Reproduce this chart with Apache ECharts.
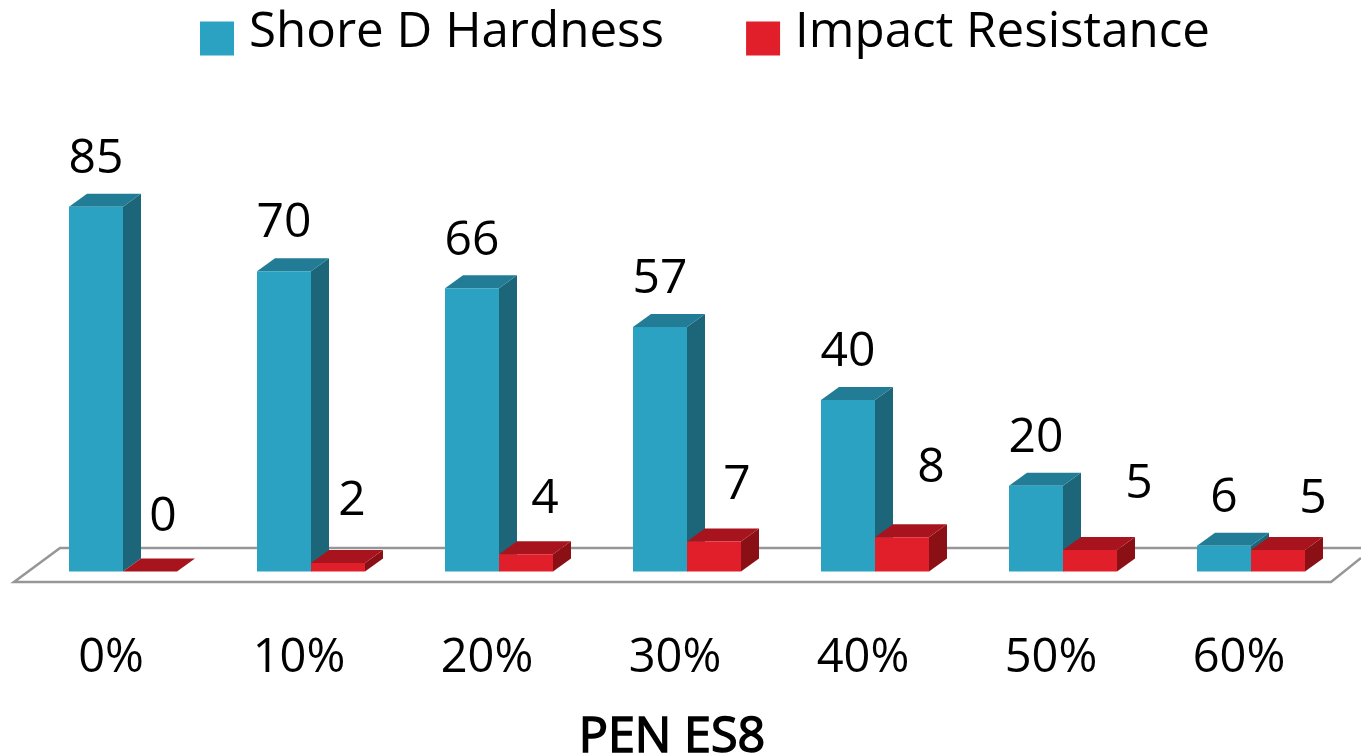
<!DOCTYPE html>
<html>
<head>
<meta charset="utf-8">
<style>html,body{margin:0;padding:0;background:#fff}#main{width:1361px;height:754px}</style>
<script src="https://cdn.jsdelivr.net/npm/echarts@6/dist/echarts.min.js"></script>
</head>
<body>
<div id="main"></div>
<script>
var categories = ['0%', '10%', '20%', '30%', '40%', '50%', '60%'];
var hardness = [85, 70, 66, 57, 40, 20, 6];
var impact = [0, 2, 4, 7, 8, 5, 5];

// hand placed value labels of the red bars: [dx, height above bar]
var impactLabelNudge = [[13, 54], [14, 62], [19, 55], [23, 56], [29, 69], [49, 66], [35, 51]];

var fontName = '"Open Sans"';
var depthX = 18, depthY = 13;

function box(front, side, top, sideOfCenter, labelAt) {
  return function (params, api) {
    var i = api.value(0), v = api.value(1);
    var base = api.coord([i, 0]);
    var tip = api.coord([i, v]);
    var w = api.size([1, 0])[0] * 0.2872;
    var x0 = base[0] + (sideOfCenter < 0 ? -w : 0), x1 = x0 + w;
    var y0 = base[1], y1 = tip[1];
    var at = labelAt(i, x0 + w / 2, y1);
    return {
      type: 'group',
      children: [
        { type: 'polygon', shape: { points: [[x1, y0], [x1 + depthX, y0 - depthY], [x1 + depthX, y1 - depthY], [x1, y1]] }, style: { fill: side } },
        { type: 'polygon', shape: { points: [[x0, y1], [x0 + depthX, y1 - depthY], [x1 + depthX, y1 - depthY], [x1, y1]] }, style: { fill: top } },
        { type: 'rect', shape: { x: x0, y: y1, width: w, height: y0 - y1 }, style: { fill: front } },
        { type: 'text', style: { text: String(v), x: at[0], y: at[1], align: 'center', verticalAlign: 'middle', fill: '#000', font: '48px ' + fontName } }
      ]
    };
  };
}

function pairs(values) {
  return values.map(function (v, i) { return [i, v]; });
}

var chart = echarts.init(document.getElementById('main'));

chart.setOption({
  animation: false,
  textStyle: { fontFamily: fontName },
  graphic: [{
    // tilted floor under the bars
    type: 'polyline',
    z: 0,
    shape: { points: [[1361, 558], [1331, 582], [14, 582], [60, 548], [1361, 548]] },
    style: { fill: 'none', stroke: '#969696', lineWidth: 2.5 }
  }],
  legend: {
    left: 200,
    top: 8,
    padding: 0,
    itemWidth: 34,
    itemHeight: 34,
    itemGap: 82,
    icon: 'rect',
    data: ['Shore D Hardness', 'Impact Resistance'],
    formatter: '{t|{name}}',
    textStyle: {
      color: '#000',
      rich: { t: { fontSize: 49.3, color: '#000', fontFamily: fontName, padding: [0, 0, 12, 10] } }
    }
  },
  grid: { left: 29, right: 16, top: 142.5, bottom: 182.5, outerBoundsMode: 'none' },
  xAxis: {
    type: 'category',
    data: categories,
    name: 'PEN ES8',
    nameLocation: 'middle',
    nameGap: 142,
    nameTextStyle: { fontSize: 48.5, color: '#000', fontFamily: fontName, textBorderColor: '#000', textBorderWidth: 1.5, padding: [0, 30, 0, 0] },
    axisLine: { show: false },
    axisTick: { show: false },
    axisLabel: { fontSize: 47, color: '#000', margin: 64, padding: [0, 24, 0, 0], fontFamily: fontName }
  },
  yAxis: { type: 'value', min: 0, max: 100, show: false },
  series: [{
    name: 'Shore D Hardness',
    type: 'custom',
    z: 2,
    itemStyle: { color: '#2CA2C2' },
    encode: { x: 0, y: 1 },
    data: pairs(hardness),
    renderItem: box('#2CA2C2', '#1D6679', '#237C95', -1, function (i, cx, top) { return [cx, top - 47.5]; })
  }, {
    name: 'Impact Resistance',
    type: 'custom',
    z: 3,
    itemStyle: { color: '#E01F2B' },
    encode: { x: 0, y: 1 },
    data: pairs(impact),
    renderItem: box('#E01F2B', '#8B1016', '#A8141E', 1, function (i, cx, top) {
      return [cx + impactLabelNudge[i][0], top - impactLabelNudge[i][1]];
    })
  }]
});
</script>
</body>
</html>
